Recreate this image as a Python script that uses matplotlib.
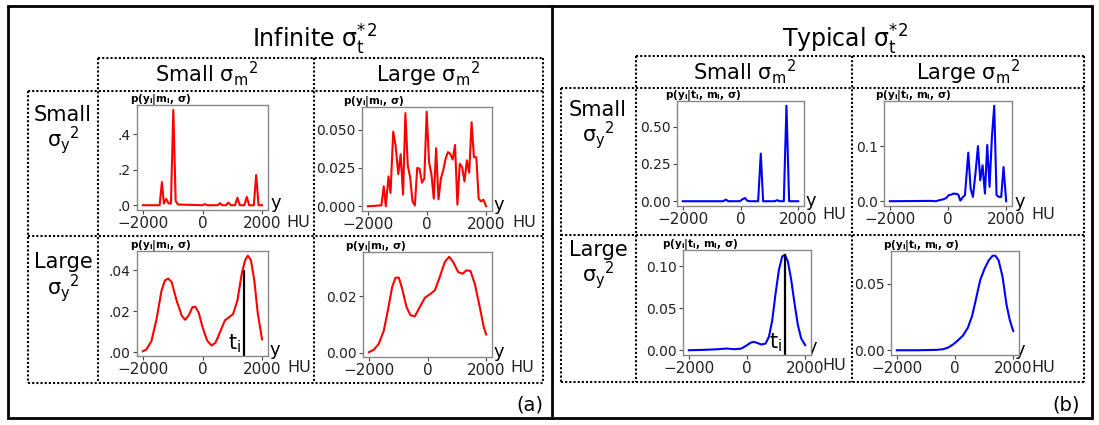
import matplotlib
matplotlib.use('Agg')
import matplotlib.pyplot as plt
from matplotlib.patches import Rectangle

W, H = 1099, 425

# ---------------- data ----------------
hu_ticks = [-2000, 0, 2000]
hu_tick_labels = ['\u22122000', '0', '2000']

# (a) Infinite sigma_t*^2
a_ss_x = [-2000, -1440, -1363, -1296, -1217, -1138, -1060, -980, -901, -823, 0, 80, 160,
          506, 586, 666, 788, 868, 948, 1092, 1172, 1252, 1407, 1487, 1567, 1723, 1803, 1883, 2000]
a_ss_y = [0, 0, 0.13, 0.01, 0.035, 0.01, 0.01, 0.537, 0.023, 0.004, 0, 0.006, 0,
          0, 0.011, 0, 0, 0.015, 0, 0, 0.042, 0, 0, 0.047, 0, 0, 0.17, 0, 0]

a_sl_x = [-2000, -1543, -1463, -1394, -1303, -1234, -1143, -1063, -971, -891, -811, -731,
          -651, -571, -491, -411, -331, -251, -171, -91, -11, 69, 149, 229, 309, 389, 469,
          549, 629, 709, 789, 869, 949, 1029, 1109, 1189, 1269, 1349, 1429, 1509, 1589,
          1669, 1749, 1829, 1909, 2000]
a_sl_y = [0, 0.0006, 0.013, 0.0, 0.0195, 0.0087, 0.0487, 0.0396, 0.021, 0.034, 0.0076, 0.0608,
          0.0266, 0.019, 0.0032, 0.0006, 0.025, 0.0245, 0.0154, 0.018, 0.0617, 0.0288, 0.021,
          0.005, 0.0379, 0.0045, 0.018, 0.0234, 0.031, 0.0353, 0.0342, 0.0305, 0.04, 0.001,
          0.0277, 0.0255, 0.0162, 0.030, 0.0219, 0.0548, 0.032, 0.032, 0.005, 0.0032, 0.0043, 0.0]

a_ls_x = [-2000, -1886, -1716, -1546, -1377, -1263, -1150, -1036, -866, -696, -583, -470,
          -334, -243, -130, 6, 153, 300, 436, 606, 754, 890, 1026, 1173, 1320, 1434, 1524,
          1626, 1740, 1853, 2000]
a_ls_y = [0.0005, 0.0013, 0.0054, 0.016, 0.030, 0.035, 0.0359, 0.0342, 0.025, 0.0178, 0.0158,
          0.0178, 0.022, 0.0222, 0.0194, 0.012, 0.0058, 0.0033, 0.0046, 0.0104, 0.0156, 0.017,
          0.0186, 0.0252, 0.0384, 0.045, 0.047, 0.045, 0.035, 0.0194, 0.0063]
a_ls_t = 1400
a_ls_t_top = 0.0397

a_ll_x = [-2000, -1830, -1660, -1489, -1352, -1205, -1091, -977, -864, -716, -580, -432,
          -261, -91, 80, 250, 420, 591, 738, 875, 1045, 1193, 1329, 1465, 1612, 1783, 1919, 2000]
a_ll_y = [0.0002, 0.0011, 0.0032, 0.0079, 0.015, 0.0233, 0.0266, 0.0266, 0.0227, 0.0162,
          0.0133, 0.0129, 0.0162, 0.0195, 0.0207, 0.0221, 0.0269, 0.0322, 0.034, 0.0322,
          0.0286, 0.028, 0.0292, 0.029, 0.0245, 0.0162, 0.0091, 0.0065]

# (b) Typical sigma_t*^2
b_ss_x = [-2000, -600, -507, -426, -23, 69, 150, 231, 323, 611, 703, 784, 1188, 1269, 1361,
          1500, 1592, 1685, 2000]
b_ss_y = [0, 0, 0.011, 0, 0, 0.013, 0.022, 0.004, 0, 0, 0.32, 0, 0, 0.007, 0, 0, 0.641, 0, 0]

b_sl_x = [-2000, -571, -423, -286, -149, -57, 23, 114, 194, 286, 354, 423, 514, 583, 697,
          777, 857, 949, 1029, 1109, 1189, 1269, 1349, 1429, 1509, 1589, 1669, 1749, 1829,
          1909, 2000]
b_sl_y = [0, 0.0006, 0, 0.002, 0.0036, 0.006, 0.011, 0.012, 0.0139, 0.0133, 0.012, 0.0012,
          0.0078, 0.011, 0.088, 0.023, 0.0078, 0.053, 0.1, 0.038, 0.065, 0.0139, 0.102, 0.026,
          0.116, 0.173, 0.011, 0.0078, 0.0078, 0.062, 0.0]

b_ls_x = [-2000, -1509, -994, -709, -423, -194, 0, 114, 229, 343, 491, 640, 754, 869, 983,
          1097, 1211, 1303, 1406, 1520, 1634, 1749, 1863, 2000]
b_ls_y = [0, 0.0004, 0.0012, 0.002, 0.0012, 0.002, 0.006, 0.0088, 0.01, 0.0088, 0.0068,
          0.008, 0.016, 0.036, 0.068, 0.096, 0.112, 0.114, 0.106, 0.084, 0.056, 0.03, 0.014, 0.006]
b_ls_t = 1303
b_ls_t_top = 0.114

b_ll_x = [-2000, -1318, -636, -409, -239, -68, 102, 273, 443, 591, 727, 864, 1011, 1159,
          1295, 1386, 1500, 1636, 1773, 1886, 2000]
b_ll_y = [0, 0, 0.0003, 0.0008, 0.002, 0.0043, 0.0075, 0.011, 0.017, 0.026, 0.039, 0.0525,
          0.061, 0.0675, 0.071, 0.071, 0.0675, 0.055, 0.034, 0.0225, 0.0145]

# tick values / labels
a_ss_yt, a_ss_yl = [0, 0.2, 0.4], ['.0', '.2', '.4']
a_sl_yt, a_sl_yl = [0, 0.025, 0.05], ['0.000', '0.025', '0.050']
a_ls_yt, a_ls_yl = [0, 0.02, 0.04], ['.00', '.02', '.04']
a_ll_yt, a_ll_yl = [0, 0.02], ['0.00', '0.02']
b_ss_yt, b_ss_yl = [0, 0.25, 0.5], ['0.00', '0.25', '0.50']
b_sl_yt, b_sl_yl = [0, 0.1], ['0.0', '0.1']
b_ls_yt, b_ls_yl = [0, 0.05, 0.10], ['0.00', '0.05', '0.10']
b_ll_yt, b_ll_yl = [0, 0.05], ['0.00', '0.05']

plabel_a = r'p(y$_\mathbf{i}$|$\mathbf{m_I}$, $\mathbf{\sigma}$)'
plabel_b = r'p(y$_\mathbf{i}$|t$_\mathbf{i}$, $\mathbf{m_I}$, $\mathbf{\sigma}$)'

# ---------------- figure ----------------
fig = plt.figure(figsize=(W / 100, H / 100), dpi=100)
ov = fig.add_axes([0, 0, 1, 1])
ov.set_xlim(0, W)
ov.set_ylim(H, 0)
ov.axis('off')


def px_axes(x, y, w, h):
    return fig.add_axes([x / W, 1 - (y + h) / H, w / W, h / H])


panels = [
    # x, y, w, h, xs, ys, color, yticks, ylabels, plabel, plabel_x, y_pos, hu_pos, t
    (137, 105, 131, 105, a_ss_x, a_ss_y, 'red', a_ss_yt, a_ss_yl, plabel_a, 130, (276, 203), (298, 222), None),
    (362, 107, 130, 104, a_sl_x, a_sl_y, 'red', a_sl_yt, a_sl_yl, plabel_a, 343, (499, 205), (524, 222), None),
    (137, 251, 131, 105, a_ls_x, a_ls_y, 'red', a_ls_yt, a_ls_yl, plabel_a, 130, (275, 350), (299, 367), (a_ls_t, a_ls_t_top)),
    (363, 252, 129, 105, a_ll_x, a_ll_y, 'red', a_ll_yt, a_ll_yl, plabel_a, 345, (499, 352), (522, 367), None),
    (677, 101, 127, 105, b_ss_x, b_ss_y, 'blue', b_ss_yt, b_ss_yl, plabel_b, 665, (811, 201), (834, 214), None),
    (884, 101, 128, 105, b_sl_x, b_sl_y, 'blue', b_sl_yt, b_sl_yl, plabel_b, 875, (1020, 202), (1043, 214), None),
    (683, 250, 128, 105, b_ls_x, b_ls_y, 'blue', b_ls_yt, b_ls_yl, plabel_b, 662, (812, 347), (834, 365), (b_ls_t, b_ls_t_top)),
    (891, 251, 128, 104, b_ll_x, b_ll_y, 'blue', b_ll_yt, b_ll_yl, plabel_b, 883, (1020, 350), (1043, 367), None),
]

for (x, y, w, h, xs, ys, col, yt, yl, pl, plx, ypos, hupos, t) in panels:
    ax = px_axes(x, y, w, h)
    ax.plot(xs, ys, color=col, lw=1.5)
    ax.set_xticks(hu_ticks)
    ax.set_xticklabels(hu_tick_labels)
    ax.set_yticks(yt)
    ax.set_yticklabels(yl)
    for s in ax.spines.values():
        s.set_color('#888888')
        s.set_linewidth(1.0)
    ax.tick_params(labelcolor='#222222', color='#444444', length=3, pad=1.5)
    ax.tick_params(axis='x', labelsize=11)
    ax.tick_params(axis='y', labelsize=10)
    if t is not None:
        ax.autoscale(False)
        y0 = ax.get_ylim()[0]
        ax.plot([t[0], t[0]], [y0, t[1]], color='black', lw=1.6)
        ax.annotate(r'$\mathregular{t_i}$', xy=(t[0], y0), xytext=(-2, 1),
                    textcoords='offset points', ha='right', va='bottom', fontsize=15)
    ov.text(plx, y + 2, pl, fontsize=7.5, fontweight='bold', ha='left', va='bottom')
    ov.text(ypos[0], ypos[1], 'y', fontsize=13, ha='center', va='center')
    ov.text(hupos[0], hupos[1], 'HU', fontsize=11.5, ha='center', va='center', color='#222222')

# frames
ov.add_patch(Rectangle((8, 6), 1084, 412, fill=False, lw=2, ec='black'))
ov.plot([552, 552], [6, 418], color='black', lw=2)

dot = dict(color='black', lw=1.5, ls=(0, (1, 1)))


def grid_boxes(xl, xm, xd, xr, yt, yh, yd, yb):
    # header
    ov.plot([xm, xr], [yt, yt], **dot)
    ov.plot([xm, xm], [yt, yb], **dot)
    ov.plot([xr, xr], [yt, yb], **dot)
    ov.plot([xd, xd], [yt, yb], **dot)
    # rows
    ov.plot([xl, xr], [yh, yh], **dot)
    ov.plot([xl, xr], [yd, yd], **dot)
    ov.plot([xl, xr], [yb, yb], **dot)
    ov.plot([xl, xl], [yh, yb], **dot)


grid_boxes(28, 98, 314, 543, 58, 91, 236, 383)
grid_boxes(561, 636, 852, 1084, 56, 88, 235, 382)

# titles and labels
title_tail = r'σ$^{*}_\mathregular{t}$$^\mathregular{2}$'
ov.text(314, 40, 'Infinite ' + title_tail, fontsize=17, ha='center', va='center')
ov.text(845, 40, 'Typical ' + title_tail, fontsize=17, ha='center', va='center')

sm = r' σ$_\mathregular{m}$$^\mathregular{2}$'
sy = r'σ$_\mathregular{y}$$^\mathregular{2}$'
ov.text(206, 74, 'Small' + sm, fontsize=15, ha='center', va='center')
ov.text(428, 74, 'Large' + sm, fontsize=15, ha='center', va='center')
ov.text(744, 72, 'Small' + sm, fontsize=15, ha='center', va='center')
ov.text(968, 72, 'Large' + sm, fontsize=15, ha='center', va='center')

ov.text(63, 115, 'Small', fontsize=15, ha='center', va='center')
ov.text(63, 140, sy, fontsize=15, ha='center', va='center')
ov.text(63, 262, 'Large', fontsize=15, ha='center', va='center')
ov.text(63, 288, sy, fontsize=15, ha='center', va='center')
ov.text(598, 110, 'Small', fontsize=15, ha='center', va='center')
ov.text(598, 135, sy, fontsize=15, ha='center', va='center')
ov.text(598, 250, 'Large', fontsize=15, ha='center', va='center')
ov.text(598, 275, sy, fontsize=15, ha='center', va='center')

ov.text(530, 405, '(a)', fontsize=14, ha='center', va='center')
ov.text(1066, 405, '(b)', fontsize=14, ha='center', va='center')

fig.savefig('out.png', dpi=100)
